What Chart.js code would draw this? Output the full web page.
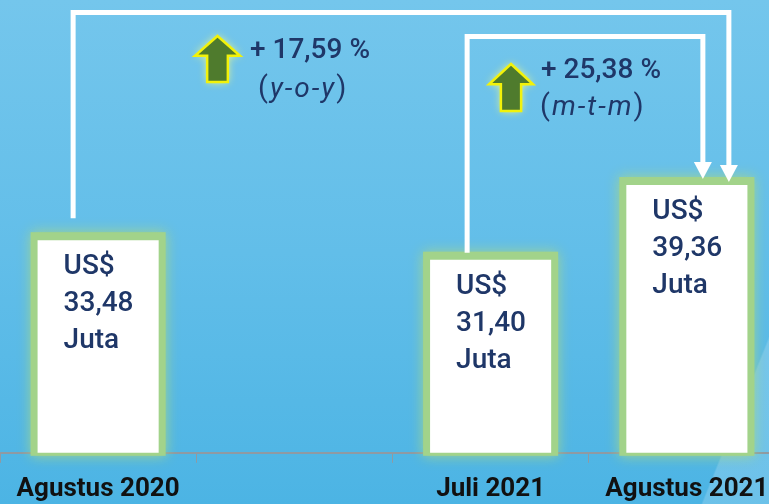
<!DOCTYPE html>
<html>
<head>
<meta charset="utf-8">
<script src="https://cdn.jsdelivr.net/npm/chart.js@4.4.1/dist/chart.umd.min.js"></script>
<style>
    html, body { margin: 0; padding: 0; }
    #wrap {
        width: 769px; height: 504px; overflow: hidden; position: relative;
        background: linear-gradient(to bottom, #74c6ec 0%, #62bee9 50%, #4cb4e4 100%);
    }
    #streak {
        position: absolute; left: 0; top: 0; width: 769px; height: 504px;
        background: linear-gradient(112deg, rgba(255,255,255,0) 93%, rgba(255,255,255,0.18) 93.2%);
    }
    canvas { position: absolute; left: 0; top: 0; }
</style>
</head>
<body>
<div id="wrap">
    <div id="streak"></div>
    <canvas id="exportChart" width="785" height="516"></canvas>
</div>
<script>
// Export values, million US$
const periods = ["Agustus 2020", "", "Juli 2021", "Agustus 2021"];
const exportValues = [33.48, null, 31.40, 39.36];
const growthValues = ["+ 17,59 %", "+ 25,38 %"];
const growthKinds = ["y-o-y", "m-t-m"];

const navy = '#1f3768';

function formatValue(v) {
    return v.toFixed(2).replace('.', ',');
}

// green glow behind each bar
const glowPlugin = {
    id: 'glow',
    beforeDatasetsDraw(chart) {
        const ctx = chart.ctx;
        const bottom = chart.chartArea.bottom;
        chart.getDatasetMeta(0).data.forEach((bar, i) => {
            if (exportValues[i] === null) return;
            const left = bar.x - bar.width / 2;
            ctx.save();
            ctx.shadowColor = 'rgba(164,214,138,0.95)';
            ctx.shadowBlur = 12;
            ctx.fillStyle = '#a2d38a';
            ctx.fillRect(left - 7, bar.y - 8, bar.width + 14, bottom - bar.y + 11);
            ctx.restore();
        });
    }
};

function upArrowIcon(ctx, cx, top, w, h) {
    const headH = h * 0.43;
    const shaft = w * 0.46;
    ctx.save();
    ctx.beginPath();
    ctx.moveTo(cx, top);
    ctx.lineTo(cx + w / 2, top + headH);
    ctx.lineTo(cx + shaft / 2, top + headH);
    ctx.lineTo(cx + shaft / 2, top + h);
    ctx.lineTo(cx - shaft / 2, top + h);
    ctx.lineTo(cx - shaft / 2, top + headH);
    ctx.lineTo(cx - w / 2, top + headH);
    ctx.closePath();
    ctx.shadowColor = 'rgba(255,255,120,0.9)';
    ctx.shadowBlur = 8;
    ctx.fillStyle = '#4f7b2d';
    ctx.fill();
    ctx.shadowBlur = 0;
    ctx.lineWidth = 2.5;
    ctx.strokeStyle = '#f2f20a';
    ctx.lineJoin = 'miter';
    ctx.stroke();
    ctx.restore();
}

function growthText(ctx, i, x1, y1, x2, y2) {
    ctx.save();
    ctx.fillStyle = navy;
    ctx.textBaseline = 'middle';
    ctx.textAlign = 'left';
    ctx.font = '500 28px Roboto';
    ctx.fillText(growthValues[i], x1, y1);
    let x = x2;
    ctx.font = '400 29px Roboto';
    ctx.fillText('(', x, y2);
    x += ctx.measureText('(').width + 2;
    ctx.font = 'italic 400 28px Roboto';
    ctx.letterSpacing = '2px';
    ctx.fillText(growthKinds[i], x, y2);
    x += ctx.measureText(growthKinds[i]).width;
    ctx.letterSpacing = '0px';
    ctx.font = '400 29px Roboto';
    ctx.fillText(')', x, y2);
    ctx.restore();
}

function connector(ctx, x1, y1, yTop, x2, tipY) {
    ctx.save();
    ctx.strokeStyle = '#ffffff';
    ctx.fillStyle = '#ffffff';
    ctx.lineWidth = 5;
    ctx.lineJoin = 'miter';
    ctx.beginPath();
    ctx.moveTo(x1, y1);
    ctx.lineTo(x1, yTop);
    ctx.lineTo(x2, yTop);
    ctx.lineTo(x2, tipY - 15);
    ctx.stroke();
    ctx.beginPath();
    ctx.moveTo(x2 - 9, tipY - 17);
    ctx.lineTo(x2 + 9, tipY - 17);
    ctx.lineTo(x2, tipY);
    ctx.closePath();
    ctx.fill();
    ctx.restore();
}

// labels in the bars, connectors and growth notes
const notesPlugin = {
    id: 'notes',
    afterDatasetsDraw(chart) {
        const ctx = chart.ctx;
        const bars = chart.getDatasetMeta(0).data;

        ctx.save();
        ctx.fillStyle = navy;
        ctx.font = '500 28px Roboto';
        ctx.textBaseline = 'middle';
        ctx.textAlign = 'left';
        bars.forEach((bar, i) => {
            if (exportValues[i] === null) return;
            const left = bar.x - bar.width / 2 + 26;
            const lines = ['US$', formatValue(exportValues[i]), 'Juta'];
            lines.forEach((t, k) => ctx.fillText(t, left, bar.y + 27 + k * 37));
        });
        ctx.restore();

        const b1 = bars[0], b2 = bars[2], b3 = bars[3];
        connector(ctx, b1.x - 25, b1.y - 22, 12.5, b3.x + 42, b3.y - 3);
        connector(ctx, b2.x - 23.5, b2.y - 7, 36.5, b3.x + 16, b3.y - 6);

        upArrowIcon(ctx, 217.5, 36, 45, 46);
        growthText(ctx, 0, 250, 51, 258, 90);
        upArrowIcon(ctx, 511, 64, 44, 47);
        growthText(ctx, 1, 541, 71, 540, 108);
    }
};

new Chart(document.getElementById('exportChart').getContext('2d'), {
    type: 'bar',
    data: {
        labels: periods,
        datasets: [{
            data: exportValues,
            backgroundColor: '#ffffff',
            borderWidth: 0,
            barPercentage: 1,
            categoryPercentage: 0.617
        }]
    },
    options: {
        responsive: false,
        animation: false,
        layout: { padding: 0 },
        plugins: {
            legend: { display: false },
            tooltip: { enabled: false }
        },
        scales: {
            x: {
                z: 1,
                border: { display: true, color: '#8f9aa3', width: 2 },
                grid: {
                    display: true,
                    drawOnChartArea: false,
                    drawTicks: true,
                    tickLength: 10,
                    color: '#8f9aa3',
                    lineWidth: 1
                },
                ticks: {
                    color: '#111111',
                    font: { family: 'Roboto', size: 26, weight: '700' },
                    padding: 11,
                    autoSkip: false,
                    maxRotation: 0
                }
            },
            y: {
                display: false,
                min: 10.8,
                max: 59.1
            }
        }
    },
    plugins: [glowPlugin, notesPlugin]
});
</script>
</body>
</html>
